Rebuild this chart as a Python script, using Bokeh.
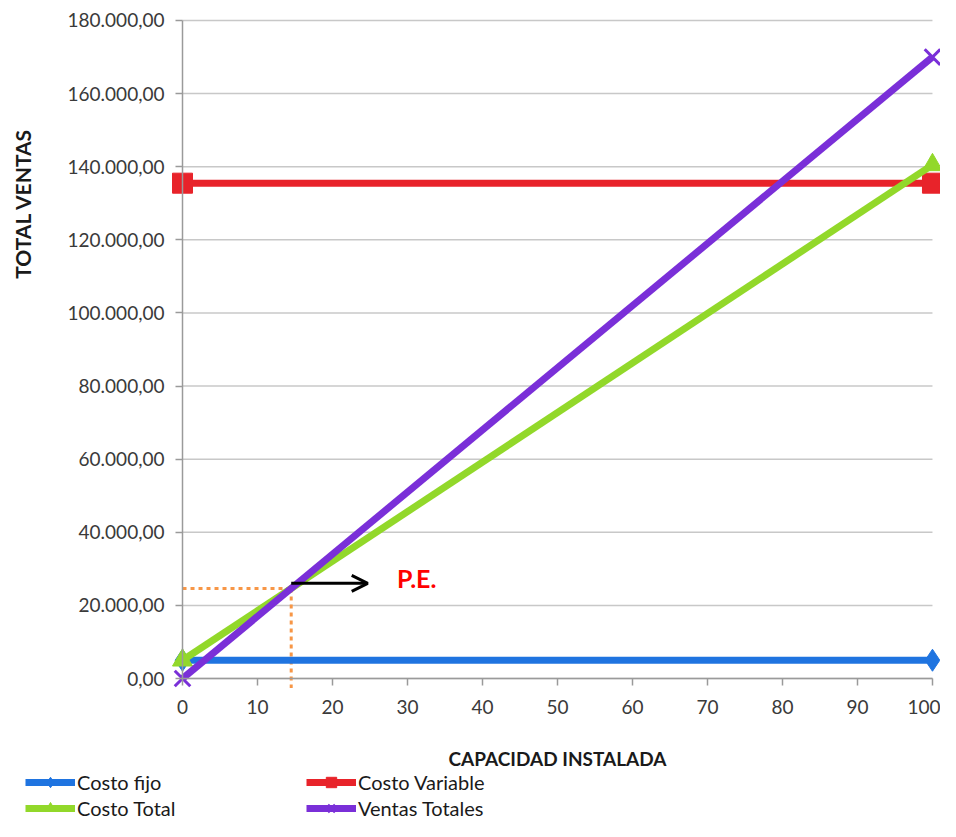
from bokeh.plotting import figure
from bokeh.models import (Range1d, Legend, LegendItem, Label, Arrow, OpenHead,
                          FixedTicker, ColumnDataSource)
from bokeh.embed import file_html
from bokeh.resources import INLINE

# ---------------- data ----------------
capacidad = [0, 100]
costo_fijo = [5000, 5000]
costo_variable = [135500, 135500]
costo_total = [5000, 140500]
ventas_totales = [0, 170000]

x_ticks = [0, 10, 20, 30, 40, 50, 60, 70, 80, 90, 100]
y_ticks = [0, 20000, 40000, 60000, 80000, 100000, 120000, 140000, 160000, 180000]
y_tick_labels = ["0,00", "20.000,00", "40.000,00", "60.000,00", "80.000,00",
                 "100.000,00", "120.000,00", "140.000,00", "160.000,00", "180.000,00"]

series_names = ["Costo fijo", "Costo Variable", "Costo Total", "Ventas Totales"]

# break-even point: intersection of Costo Total and Ventas Totales
slope_ct = (costo_total[1] - costo_total[0]) / (capacidad[1] - capacidad[0])
slope_vt = (ventas_totales[1] - ventas_totales[0]) / (capacidad[1] - capacidad[0])
pe_x = (costo_total[0] - ventas_totales[0]) / (slope_vt - slope_ct)
pe_y = ventas_totales[0] + slope_vt * pe_x

# ---------------- layout constants ----------------
W, H = 940, 821
# the frame covers the whole canvas so that nothing gets clipped
X0, X1 = -24.27, 101.07
Y0, Y1 = -39110, 185470
FONT = "Lato"

p = figure(width=W, height=H, output_backend="svg", toolbar_location=None,
           x_range=Range1d(X0, X1), y_range=Range1d(Y0, Y1),
           min_border_left=0, min_border_right=0, min_border_top=0,
           min_border_bottom=0)
p.min_border = 0
p.outline_line_color = None
p.background_fill_color = "white"
p.border_fill_color = "white"
p.xgrid.visible = False
p.ygrid.visible = False

# horizontal gridlines (from tick values)
p.segment(x0=[capacidad[0]] * len(y_ticks), x1=[capacidad[-1]] * len(y_ticks),
          y0=y_ticks, y1=y_ticks, line_color="#c8c8c8", line_width=1.5)

# axes
for ax in (p.xaxis[0], p.yaxis[0]):
    ax.fixed_location = 0
    ax.axis_line_color = "#9a9a9a"
    ax.axis_line_width = 1.5
    ax.major_tick_line_color = "#9a9a9a"
    ax.major_tick_line_width = 1.5
    ax.major_tick_in = 0
    ax.major_tick_out = 7
    ax.minor_tick_line_color = None
    ax.major_label_text_font = FONT
    ax.major_label_text_font_size = "19px"
    ax.major_label_text_color = "#3a3a3a"
    ax.axis_label_text_font = FONT
    ax.axis_label_text_font_style = "bold"
    ax.axis_label_text_font_size = "19px"
    ax.axis_label_text_color = "#1a1a1a"

p.xaxis.ticker = FixedTicker(ticks=x_ticks)
p.xaxis.bounds = (capacidad[0], capacidad[-1])
p.xaxis.major_label_standoff = 14
p.xaxis.axis_label = "CAPACIDAD INSTALADA"
p.xaxis.axis_label_standoff = 30

p.yaxis.ticker = FixedTicker(ticks=y_ticks)
p.yaxis.bounds = (y_ticks[0], y_ticks[-1])
p.yaxis.major_label_overrides = {t: s for t, s in zip(y_ticks, y_tick_labels)}
p.yaxis.major_label_standoff = 11

# y axis title placed like the reference (upper part of the axis)
p.add_layout(Label(x=-21.4, y=129900, text="TOTAL VENTAS", angle=90,
                   angle_units="deg", text_align="center", text_baseline="middle",
                   text_font=FONT, text_font_style="bold", text_font_size="21px",
                   text_color="#1a1a1a"))

# break-even helper lines
pe_line_bottom = -2600
p.line([capacidad[0], pe_x], [pe_y, pe_y], line_color="#f79646", line_width=3,
       line_dash="4 4")
p.line([pe_x, pe_x], [pe_y, pe_line_bottom], line_color="#f79646", line_width=3,
       line_dash="4 4")

# series
colors = ["#1f74e0", "#e8232a", "#92d82a", "#7a2fd8"]
values = [costo_fijo, costo_variable, costo_total, ventas_totales]
markers = ["diamond", "square", "triangle", "x"]
msizes = [22, 20, 20, 22]
items = []
for name, vals, col, mk, ms in zip(series_names, values, colors, markers, msizes):
    src = ColumnDataSource(dict(x=capacidad, y=vals))
    r1 = p.line("x", "y", source=src, line_color=col, line_width=7)
    if mk == "x":
        r2 = p.scatter("x", "y", source=src, marker=mk, size=ms, line_color=col,
                       line_width=3)
    else:
        r2 = p.scatter("x", "y", source=src, marker=mk, size=ms, fill_color=col,
                       line_color=col, line_width=1)
    items.append(LegendItem(label=name, renderers=[r1, r2]))

# arrow and P.E. label
arrow_dy = 1400
arrow_len = 10.2
p.add_layout(Arrow(end=OpenHead(size=16, line_width=3, line_color="black"),
                   x_start=pe_x, y_start=pe_y + arrow_dy,
                   x_end=pe_x + arrow_len, y_end=pe_y + arrow_dy,
                   line_color="black", line_width=3))
p.add_layout(Label(x=28.6, y=pe_y + 2800, text="P.E.", text_font=FONT,
                   text_font_style="bold", text_font_size="25px",
                   text_color="#ff0000", text_baseline="middle"))

legend = Legend(items=items, orientation="horizontal", ncols=2,
                location=(25, 0), glyph_width=50, glyph_height=26,
                label_standoff=2, label_width=229, label_height=20, spacing=0,
                padding=0, margin=0, border_line_color=None,
                background_fill_alpha=0, label_text_font=FONT,
                label_text_font_size="20px", label_text_color="#1a1a1a")
p.add_layout(legend, "center")

open("out.html", "w").write(file_html(p, INLINE))
